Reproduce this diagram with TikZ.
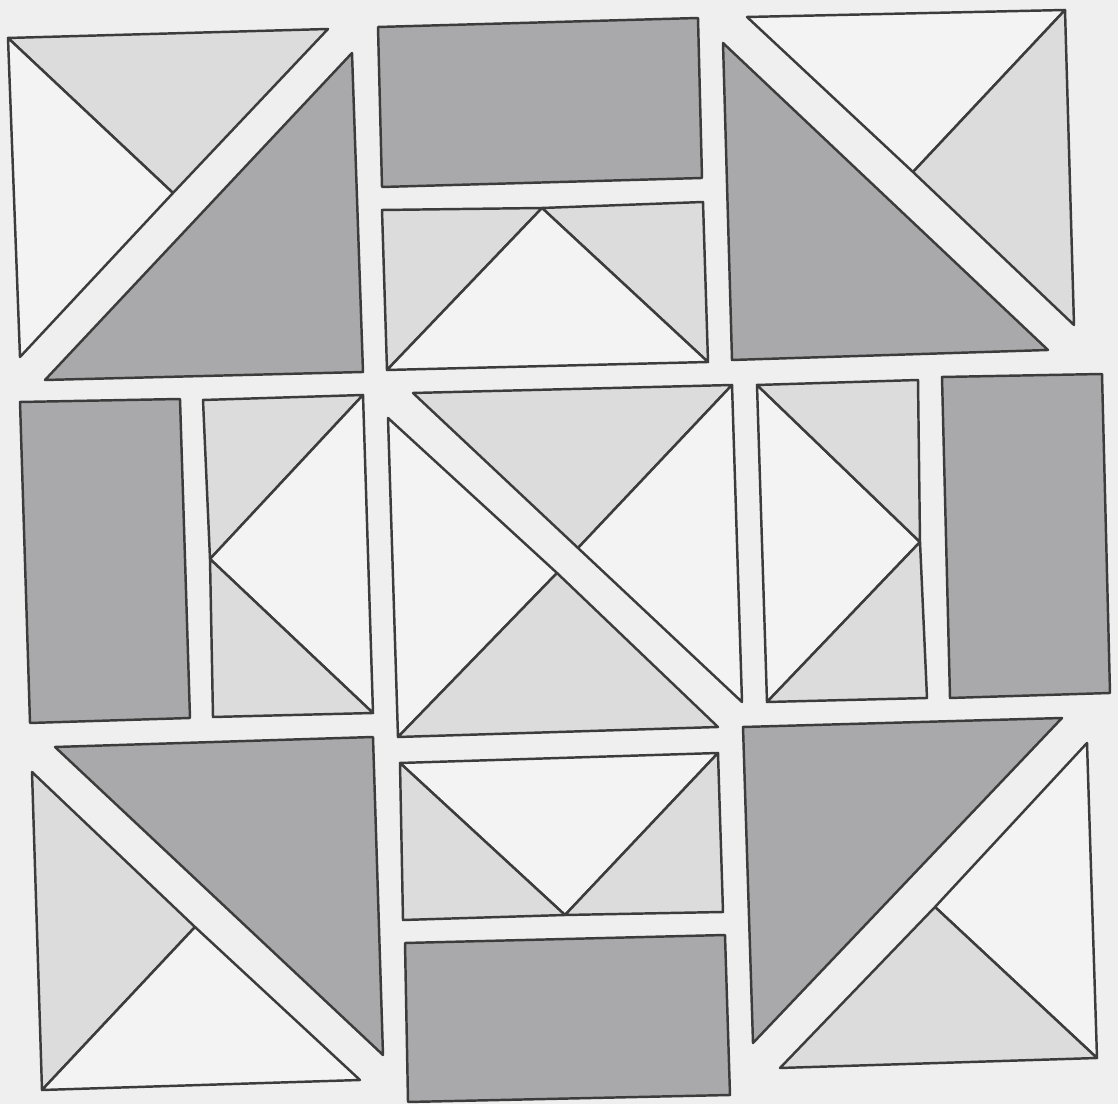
\documentclass[tikz,border=0pt]{standalone}
\usepackage{tikz}
\usepackage{xcolor}
\definecolor{paper}{HTML}{EFEFF0}
\definecolor{darkpatch}{HTML}{A9A9AB}
\definecolor{lightpatch}{HTML}{DCDCDD}
\definecolor{whitepatch}{HTML}{F3F3F4}
\definecolor{seam}{HTML}{3C3C3C}

\begin{document}
\begin{tikzpicture}[
  x=0.01cm, y=-0.01cm,
  patch/.style={draw=seam, line width=0.7pt, line join=round},
  dark/.style={patch, fill=darkpatch},
  light/.style={patch, fill=lightpatch},
  plain/.style={patch, fill=whitepatch}
]
\fill[paper] (0,0) rectangle (1118,1104);
\useasboundingbox (0,0) rectangle (1118,1104);

% top left block
\draw[light] (8,38) -- (328,29) -- (173,193) -- cycle;
\draw[plain] (8,38) -- (173,193) -- (20,357) -- cycle;
\draw[dark] (352,53) -- (363,372) -- (45,380) -- cycle;

% top middle
\draw[dark] (378,27) -- (698,18) -- (702,178) -- (382,187) -- cycle;
\draw[light] (382,210) -- (542,208) -- (387,370) -- cycle;
\draw[light] (542,208) -- (703,202) -- (708,362) -- cycle;
\draw[plain] (542,208) -- (708,362) -- (387,370) -- cycle;

% top right block
\draw[plain] (747,17) -- (1065,10) -- (913,172) -- cycle;
\draw[light] (1065,10) -- (1074,325) -- (913,172) -- cycle;
\draw[dark] (723,43) -- (1048,350) -- (732,360) -- cycle;

% middle row, left
\draw[dark] (20,402) -- (180,399) -- (190,718) -- (30,723) -- cycle;
\draw[light] (203,400) -- (363,395) -- (210,559) -- cycle;
\draw[plain] (363,395) -- (373,713) -- (210,559) -- cycle;
\draw[light] (210,559) -- (373,713) -- (213,717) -- cycle;

% centre block
\draw[light] (413,393) -- (732,385) -- (578,548) -- cycle;
\draw[plain] (732,385) -- (742,702) -- (578,548) -- cycle;
\draw[plain] (388,418) -- (557,573) -- (398,737) -- cycle;
\draw[light] (398,737) -- (718,727) -- (557,573) -- cycle;

% middle row, right
\draw[plain] (757,385) -- (920,542) -- (767,702) -- cycle;
\draw[light] (757,385) -- (918,380) -- (920,542) -- cycle;
\draw[light] (920,542) -- (927,698) -- (767,702) -- cycle;
\draw[dark] (942,377) -- (1102,374) -- (1110,693) -- (950,698) -- cycle;

% bottom left block
\draw[dark] (55,747) -- (373,737) -- (383,1055) -- cycle;
\draw[light] (32,772) -- (195,927) -- (42,1090) -- cycle;
\draw[plain] (42,1090) -- (195,927) -- (360,1080) -- cycle;

% bottom middle
\draw[plain] (400,763) -- (718,753) -- (565,915) -- cycle;
\draw[light] (400,763) -- (565,915) -- (403,920) -- cycle;
\draw[light] (718,753) -- (723,912) -- (565,915) -- cycle;
\draw[dark] (405,943) -- (725,935) -- (730,1095) -- (408,1102) -- cycle;

% bottom right block
\draw[dark] (743,727) -- (1062,718) -- (753,1043) -- cycle;
\draw[plain] (1087,743) -- (1097,1058) -- (935,907) -- cycle;
\draw[light] (780,1068) -- (1097,1058) -- (935,907) -- cycle;
\end{tikzpicture}
\end{document}
